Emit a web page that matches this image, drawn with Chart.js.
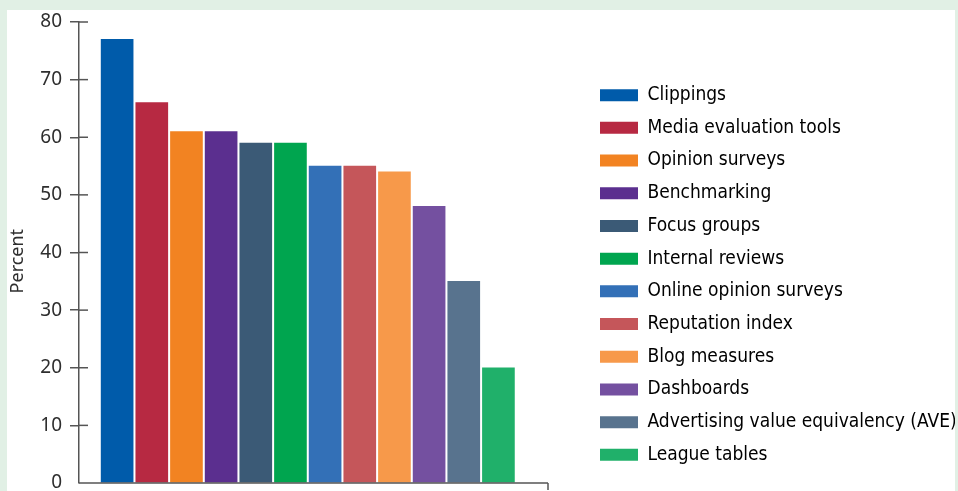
<!DOCTYPE html>
<html>
<head>
<meta charset="utf-8">
<script src="https://cdn.jsdelivr.net/npm/chart.js@4/dist/chart.umd.min.js"></script>
<style>
  html, body { margin: 0; padding: 0; width: 958px; height: 491px; overflow: hidden; background: #e1f0e5; }
  #panel { position: absolute; left: 7px; top: 10px; width: 948px; height: 524px; background: #ffffff; overflow: hidden; }
  #chart { position: absolute; left: 0; top: 0; }
</style>
</head>
<body>
<div id="panel"><canvas id="chart" width="948" height="524"></canvas></div>
<script>
const categories = [
  "Clippings", "Media evaluation tools", "Opinion surveys", "Benchmarking",
  "Focus groups", "Internal reviews", "Online opinion surveys", "Reputation index",
  "Blog measures", "Dashboards", "Advertising value equivalency (AVE)", "League tables"
];
const percentValues = [77, 66, 61, 61, 59, 59, 55, 55, 54, 48, 35, 20];
const barColors = [
  "#005baa", "#b72942", "#f28322", "#5b2f8f", "#3b5a76", "#00a54f",
  "#3370b7", "#c5565a", "#f7994a", "#7450a0", "#58738e", "#20b06a"
];
const yTicks = [0, 10, 20, 30, 40, 50, 60, 70, 80];
const yAxisTitle = "Percent";

const axisColor = "#555555";
const textColor = "#2e2e2e";

const axisDecor = {
  id: "axisDecor",
  afterDraw(chart) {
    const ctx = chart.ctx;
    const y = chart.scales.y;
    const area = chart.chartArea;
    ctx.save();
    ctx.strokeStyle = axisColor;
    ctx.lineWidth = 1.5;
    yTicks.forEach(v => {
      if (v === 0) return;
      const py = y.getPixelForValue(v);
      ctx.beginPath();
      ctx.moveTo(area.left, py);
      ctx.lineTo(area.left + 9, py);
      ctx.stroke();
    });
    ctx.beginPath();
    ctx.moveTo(area.left, area.bottom);
    ctx.lineTo(area.right, area.bottom);
    ctx.stroke();
    ctx.beginPath();
    ctx.moveTo(area.right, area.bottom);
    ctx.lineTo(area.right, area.bottom + 7);
    ctx.stroke();
    // y axis title, centred a little below the middle of the axis as in the original
    ctx.fillStyle = textColor;
    ctx.font = "18px 'Noto Sans', sans-serif";
    ctx.textAlign = "center";
    ctx.textBaseline = "middle";
    ctx.translate(y.left + 11, y.getPixelForValue(38.5));
    ctx.rotate(-Math.PI / 2);
    ctx.fillText(yAxisTitle, 0, 0);
    ctx.restore();
  }
};

new Chart(document.getElementById("chart"), {
  type: "bar",
  data: {
    datasets: [{
      label: yAxisTitle,
      data: percentValues.map((v, i) => ({ x: i, y: v })),
      backgroundColor: barColors,
      borderWidth: 0,
      barThickness: 32
    }]
  },
  options: {
    responsive: false,
    animation: false,
    devicePixelRatio: 1,
    layout: { padding: { top: 6, left: 0, right: 0, bottom: 0 } },
    scales: {
      x: {
        type: "linear",
        offset: false,
        bounds: "ticks",
        min: -1.1,
        max: 12.43,
        display: true,
        ticks: { display: false },
        grid: { display: false, offset: false },
        border: { display: false },
        afterFit(s) { s.height = 51; }
      },
      y: {
        min: 0,
        max: 80,
        afterBuildTicks(s) { s.ticks = yTicks.map(v => ({ value: v })); },
        ticks: {
          color: textColor,
          padding: 8,
          font: { family: "'Noto Sans', sans-serif", size: 19 }
        },
        grid: {
          drawOnChartArea: false,
          tickLength: 9,
          lineWidth: 1.5,
          color: c => (c.tick && c.tick.value === 0) ? "rgba(0,0,0,0)" : axisColor
        },
        border: { display: true, color: axisColor, width: 1.5 },
        title: { display: false, text: yAxisTitle },
        afterFit(s) { s.width = 72; s.paddingTop = 12; }
      },
      gap: {
        type: "linear",
        position: "right",
        display: true,
        ticks: { display: false },
        grid: { display: false },
        border: { display: false },
        afterFit(s) { s.width = 38.3; }
      }
    },
    plugins: {
      tooltip: { enabled: false },
      legend: {
        display: true,
        position: "right",
        align: "center",
        maxWidth: 368.7,
        labels: {
          boxWidth: 38,
          boxHeight: 12,
          padding: 13.7,
          color: textColor,
          font: { family: "'DejaVu Sans Condensed', sans-serif", size: 19 },
          generateLabels() {
            return categories.map((name, i) => ({
              text: name,
              fillStyle: barColors[i],
              strokeStyle: barColors[i],
              lineWidth: 0,
              hidden: false,
              index: i
            }));
          }
        },
        onClick() {}
      }
    }
  },
  plugins: [axisDecor]
});
</script>
</body>
</html>
